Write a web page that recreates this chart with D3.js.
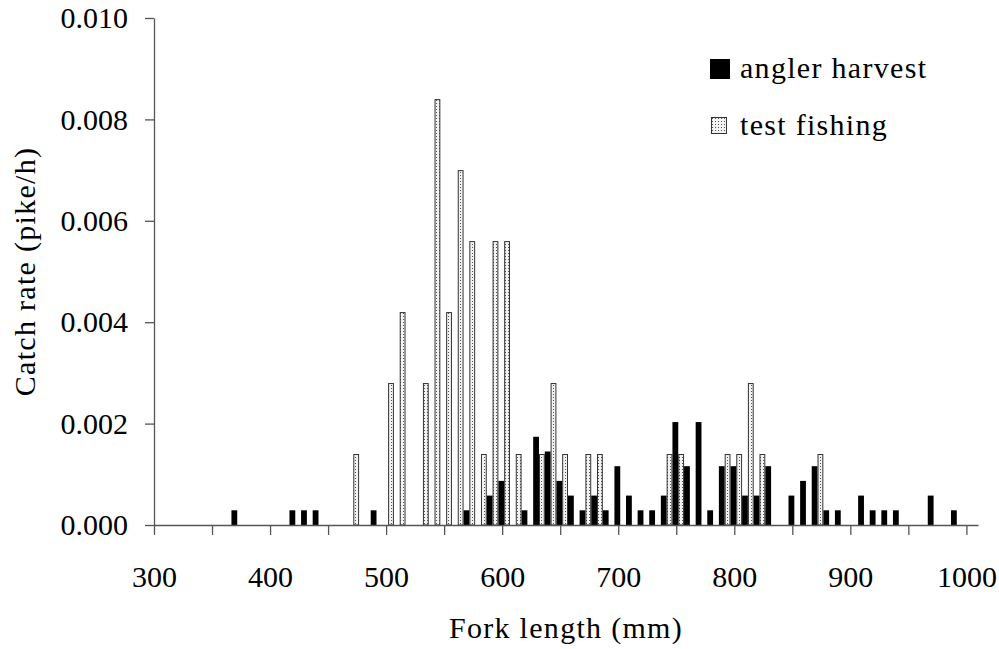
<!DOCTYPE html>
<html>
<head>
<meta charset="utf-8">
<script src="https://cdn.jsdelivr.net/npm/d3@7"></script>
<style>
  body { margin: 0; background: #fff; }
  svg, svg text { font-family: "Palatino Linotype", "Book Antiqua", Palatino, "Liberation Serif", serif; }
  .axis text { font-size: 30px; fill: #000; }
  .axis path, .axis line { stroke: #555; stroke-width: 1.3; }
  .label { font-size: 30px; fill: #000; letter-spacing: 1.3px; }
</style>
</head>
<body>
<svg id="chart"></svg>
<script>
// fork length classes (mm) and catch rates (pike/h)
const anglerLengths = [370, 420, 430, 440, 490, 570, 590, 600, 620, 630, 640, 650, 660, 670, 680, 690,
  700, 710, 720, 730, 740, 750, 760, 770, 780, 790, 800, 810, 820, 830, 850, 860, 870, 880, 890,
  910, 920, 930, 940, 970, 990];
const anglerRates = [0.00029, 0.00029, 0.00029, 0.00029, 0.00029, 0.00029, 0.00058, 0.00087, 0.00029,
  0.00174, 0.00145, 0.00087, 0.00058, 0.00029, 0.00058, 0.00029,
  0.00116, 0.00058, 0.00029, 0.00029, 0.00058, 0.00203, 0.00116, 0.00203, 0.00029, 0.00116, 0.00116,
  0.00058, 0.00058, 0.00116, 0.00058, 0.00087, 0.00116, 0.00029, 0.00029,
  0.00058, 0.00029, 0.00029, 0.00029, 0.00058, 0.00029];

const testLengths = [470, 500, 510, 530, 540, 550, 560, 570, 580, 590, 600, 610, 630, 640, 650, 670,
  680, 740, 750, 790, 800, 810, 820, 870];
const testRates = [0.0014, 0.0028, 0.0042, 0.0028, 0.0084, 0.0042, 0.0070, 0.0056, 0.0014, 0.0056,
  0.0056, 0.0014, 0.0014, 0.0028, 0.0014, 0.0014, 0.0014, 0.0014, 0.0014, 0.0014, 0.0014, 0.0028,
  0.0014, 0.0014];

const xTicks = [300, 350, 400, 450, 500, 550, 600, 650, 700, 750, 800, 850, 900, 950, 1000];
const yTicks = [0, 0.002, 0.004, 0.006, 0.008, 0.010];

const seriesNames = ["angler harvest", "test fishing"];

const anglerData = anglerLengths.map((l, i) => ({ length: l, rate: anglerRates[i] }));
const testData = testLengths.map((l, i) => ({ length: l, rate: testRates[i] }));

const width = 999;
const height = 649;
const margin = { top: 18, right: 21, bottom: 124, left: 154 };
const font = '"Palatino Linotype", "Book Antiqua", Palatino, "Liberation Serif", serif';

const svg = d3.select("#chart")
  .attr("width", width)
  .attr("height", height);

// dotted fill used for the test fishing bars
const pat = svg.append("defs")
  .append("pattern")
  .attr("id", "dots")
  .attr("patternUnits", "userSpaceOnUse")
  .attr("width", 3)
  .attr("height", 3);
pat.append("rect").attr("width", 3).attr("height", 3).attr("fill", "#f2f2f2");
pat.append("rect").attr("x", 1).attr("y", 1).attr("width", 1).attr("height", 1).attr("fill", "#555");

const x = d3.scaleLinear()
  .domain([300, 1010])
  .range([margin.left, width - margin.right]);

const y = d3.scaleLinear()
  .domain([0, 0.010])
  .range([height - margin.bottom, margin.top]);

const half = (x(310) - x(300)) / 2;
const shift = 2; // bar pair sits a little right of the class mark

svg.append("g")
  .selectAll("rect")
  .data(anglerData)
  .join("rect")
  .attr("x", d => x(d.length) + shift - half)
  .attr("width", half)
  .attr("y", d => y(d.rate))
  .attr("height", d => y(0) - y(d.rate))
  .attr("fill", "#000");

svg.append("g")
  .selectAll("rect")
  .data(testData)
  .join("rect")
  .attr("x", d => x(d.length) + shift + 0.5)
  .attr("width", half - 1)
  .attr("y", d => y(d.rate) + 0.5)
  .attr("height", d => y(0) - y(d.rate) - 0.5)
  .attr("fill", "url(#dots)")
  .attr("stroke", "#333")
  .attr("stroke-width", 1);

const xAxis = d3.axisBottom(x)
  .tickValues(xTicks)
  .tickSize(10)
  .tickSizeOuter(0)
  .tickPadding(31)
  .tickFormat(d => (d % 100 === 0 ? d : ""));

svg.append("g")
  .attr("class", "axis")
  .attr("transform", `translate(0, ${y(0)})`)
  .call(xAxis)
  .attr("font-family", font)
  .attr("font-size", 30);

const yAxis = d3.axisLeft(y)
  .tickValues(yTicks)
  .tickSize(9)
  .tickSizeOuter(0)
  .tickPadding(17)
  .tickFormat(d3.format(".3f"));

svg.append("g")
  .attr("class", "axis")
  .attr("transform", `translate(${margin.left}, 0)`)
  .call(yAxis)
  .attr("font-family", font)
  .attr("font-size", 30);

svg.append("text")
  .attr("class", "label")
  .attr("x", (x(300) + x(1010)) / 2)
  .attr("y", 638)
  .style("text-anchor", "middle")
  .text("Fork length (mm)");

svg.append("text")
  .attr("class", "label")
  .attr("transform", `translate(35, ${(y(0) + y(0.010)) / 2}) rotate(-90)`)
  .style("text-anchor", "middle")
  .text("Catch rate (pike/h)");

// legend
const legend = svg.append("g");
legend.append("rect")
  .attr("x", 710).attr("y", 59)
  .attr("width", 20).attr("height", 20)
  .attr("fill", "#000");
legend.append("rect")
  .attr("x", 711.5).attr("y", 117.5)
  .attr("width", 15).attr("height", 16)
  .attr("fill", "url(#dots)")
  .attr("stroke", "#333");
legend.selectAll("text.label")
  .data(seriesNames)
  .join("text")
  .attr("class", "label")
  .attr("x", 740)
  .attr("y", (d, i) => 78 + i * 57)
  .text(d => d);
</script>
</body>
</html>
